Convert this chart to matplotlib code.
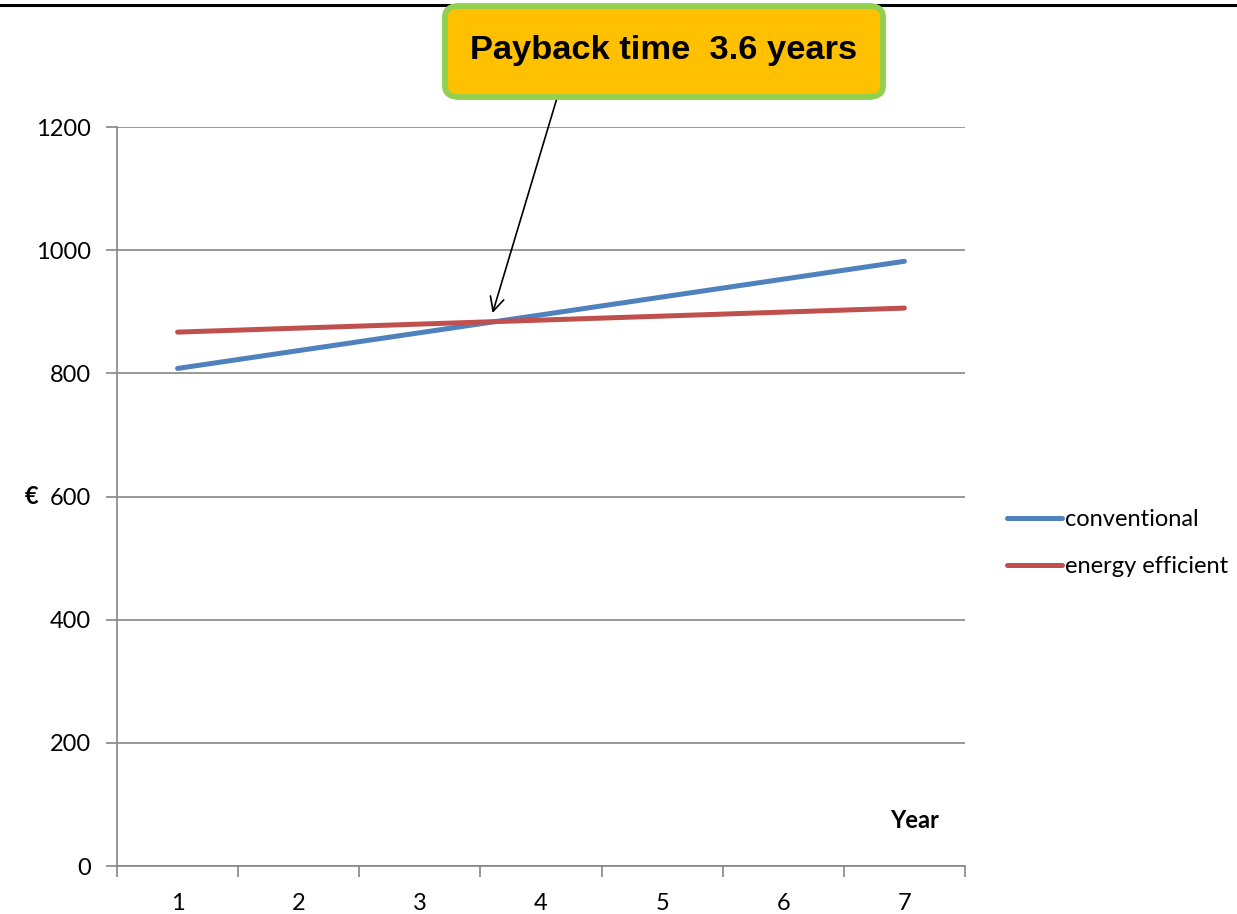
import matplotlib
matplotlib.use('Agg')
import matplotlib.pyplot as plt
from matplotlib.lines import Line2D
from matplotlib.patches import FancyBboxPatch



years = [1, 2, 3, 4, 5, 6, 7]
conventional = [808, 837, 866, 895, 924, 953, 982]
energy_efficient = [867, 873.5, 880, 886.5, 893, 899.5, 906]
payback_years = 3.6
payback_cost = 898

plt.rcParams['font.family'] = ['Lato', 'DejaVu Sans']

grey = '#868686'
fs = 17

fig = plt.figure(figsize=(12.37, 9.14), dpi=100)
ax = fig.add_axes([0.0946, 0.0525, 0.6855, 0.8085])

ax.plot(years, conventional, color='#4F81BD', lw=3.6, solid_capstyle='round', label='conventional')
ax.plot(years, energy_efficient, color='#C0504D', lw=3.6, solid_capstyle='round', label='energy efficient')

ax.set_xlim(0.5, 7.5)
ax.set_ylim(0, 1200)
ax.set_yticks(range(0, 1201, 200))
ax.set_xticks(years)
ax.set_xticks([y - 0.5 for y in years] + [7.5], minor=True)
ax.yaxis.grid(True, color=grey, lw=1.2)
ax.set_axisbelow(True)

for side in ['top', 'right']:
	ax.spines[side].set_visible(False)
for side in ['left', 'bottom']:
	ax.spines[side].set_color(grey)
	ax.spines[side].set_linewidth(1.2)

ax.tick_params(axis='y', length=8, width=1.2, color=grey, pad=11, labelsize=fs)
ax.tick_params(axis='x', which='major', length=0, pad=19.5, labelsize=fs)
ax.tick_params(axis='x', which='minor', length=8, width=1.2, color=grey)

fig.text(32 / 1237, 1 - 497 / 914, '€', fontsize=fs, fontweight='bold', ha='center', va='center')
ax.text(915 / 1237, 1 - 820 / 914, 'Year', transform=fig.transFigure, fontsize=fs,
		fontweight='bold', ha='center', va='center')

ax.legend(loc='center left', bbox_to_anchor=(998 / 1237, 1 - 543 / 914),
		  bbox_transform=fig.transFigure, frameon=False, fontsize=fs,
		  handlelength=2.3, handletextpad=0.15, labelspacing=1.1, borderaxespad=0)

# border line along the top of the page
fig.add_artist(Line2D([0, 1], [1 - 5 / 914, 1 - 5 / 914], color='black', lw=2.2))

# callout box
box_x0, box_y0 = 445 / 1237, 1 - 97 / 914
box_w, box_h = 438 / 1237, 91 / 914
fig.add_artist(FancyBboxPatch((box_x0, box_y0), box_w, box_h,
							  boxstyle='round,pad=0,rounding_size=0.012',
							  facecolor='#FFC000', edgecolor='#92D050', lw=4.2,
							  transform=fig.transFigure, zorder=5))
fig.text(box_x0 + box_w / 2, 1 - 51 / 914, 'Payback time  3.6 years',
		 family=['Liberation Sans', 'DejaVu Sans'], fontsize=24.8, fontweight='bold',
		 ha='center', va='center', zorder=6)

ax.annotate('', xy=(payback_years, payback_cost), xycoords='data',
			xytext=(557 / 1237, 1 - 98 / 914), textcoords='figure fraction',
			arrowprops=dict(arrowstyle='->,head_length=1.0,head_width=0.5', color='black', lw=1.2,
							shrinkA=0, shrinkB=0))

plt.savefig('out.png', dpi=100)
